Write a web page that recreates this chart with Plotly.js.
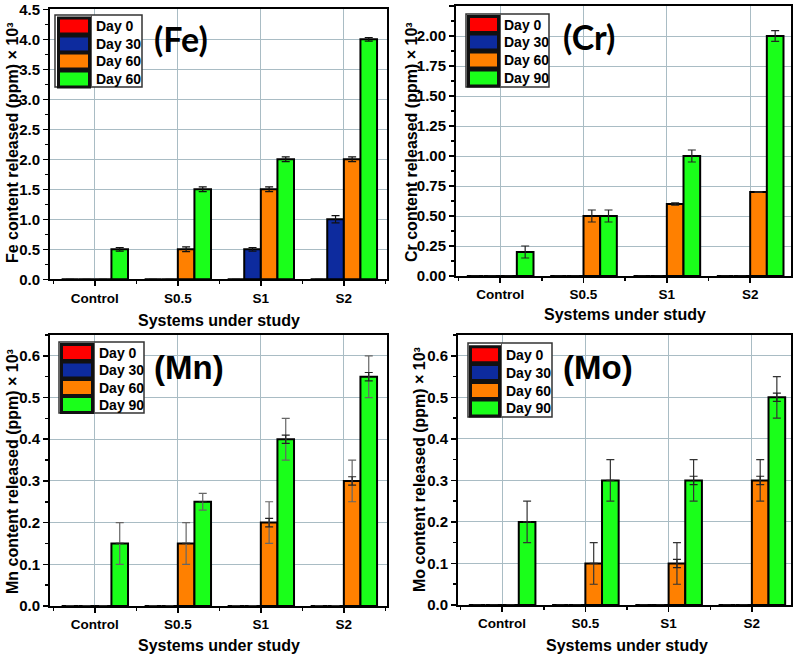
<!DOCTYPE html>
<html>
<head>
<meta charset="utf-8">
<script src="https://cdn.plot.ly/plotly-3.0.1.min.js"></script>
<style>html,body{margin:0;padding:0;background:#fff;}#chart{width:797px;height:657px;}</style>
</head>
<body>
<div id="chart"></div>
<script>
// ---------- DATA ----------
const categories = ['Control', 'S0.5', 'S1', 'S2'];
const seriesNames = ['Day 0', 'Day 30', 'Day 60', 'Day 90'];
const feLegendNames = ['Day 0', 'Day 30', 'Day 60', 'Day 60'];

const feDay0  = [0, 0, 0, 0];
const feDay30 = [0, 0, 0.5, 1.0];
const feDay60 = [0, 0.5, 1.5, 2.0];
const feDay90 = [0.5, 1.5, 2.0, 4.0];
const feErr0  = [0, 0, 0, 0];
const feErr30 = [0, 0, 0.03, 0.06];
const feErr60 = [0, 0.04, 0.04, 0.04];
const feErr90 = [0.03, 0.04, 0.04, 0.03];

const crDay0  = [0, 0, 0, 0];
const crDay30 = [0, 0, 0, 0];
const crDay60 = [0, 0.5, 0.6, 0.7];
const crDay90 = [0.2, 0.5, 1.0, 2.0];
const crErr0  = [0, 0, 0, 0];
const crErr30 = [0, 0, 0, 0];
const crErr60 = [0, 0.05, 0.01, 0.004];
const crErr90 = [0.05, 0.05, 0.05, 0.045];

const mnDay0  = [0, 0, 0, 0];
const mnDay30 = [0, 0, 0, 0];
const mnDay60 = [0, 0.15, 0.2, 0.3];
const mnDay90 = [0.15, 0.25, 0.4, 0.55];
const mnErr0  = [0, 0, 0, 0];
const mnErr30 = [0, 0, 0, 0];
const mnErr60 = [0, 0.05, 0.05, 0.05];
const mnErr90 = [0.05, 0.02, 0.05, 0.05];
const mnInnerErr60 = [0, 0, 0.01, 0.01];
const mnInnerErr90 = [0, 0, 0.01, 0.01];

const moDay0  = [0, 0, 0, 0];
const moDay30 = [0, 0, 0, 0];
const moDay60 = [0, 0.1, 0.1, 0.3];
const moDay90 = [0.2, 0.3, 0.3, 0.5];
const moErr0  = [0, 0, 0, 0];
const moErr30 = [0, 0, 0, 0];
const moErr60 = [0, 0.05, 0.05, 0.05];
const moErr90 = [0.05, 0.05, 0.05, 0.05];
const moInnerErr60 = [0, 0, 0.01, 0.01];
const moInnerErr90 = [0, 0, 0.01, 0.01];

// ---------- STYLE ----------
const colors = ['#ff0000', '#0d2b9e', '#ff8000', '#1aff1a'];
const FONT = 'Liberation Sans, Arial, sans-serif';
const W = 797, H = 657;
const px = x => x / W;
const py = y => 1 - y / H;
const xIdx = categories.map((c, i) => i);
const offsets = [-0.4, -0.2, 0, 0.2];
const BW = 0.2;

const panels = [
  { ax: '', xd: [50, 387], yd: [9.3, 279.3], xr: [-0.54, 3.52], yr: [0, 4.5], dtick: 0.5, minor: 0.25, fmt: '.1f',
    vals: [feDay0, feDay30, feDay60, feDay90], errs: [feErr0, feErr30, feErr60, feErr90], inner: null,
    errColor: '#111', names: feLegendNames,
    label: '(Fe)', labelFont: 'Lato, Open Sans, sans-serif', labelSize: 34, labelPos: [181, 38],
    ytitle: 'Fe content released (ppm) × 10³', ytPos: [13, 143], xtPos: [219, 320],
    leg: { box: [55, 15, 142, 87], sw: [57, 90], rows: [26, 44, 61, 79], tx: 94 } },
  { ax: '2', xd: [456, 791], yd: [6, 276], xr: [-0.53, 3.49], yr: [0, 2.25], dtick: 0.25, minor: 0.125, fmt: '.2f',
    vals: [crDay0, crDay30, crDay60, crDay90], errs: [crErr0, crErr30, crErr60, crErr90], inner: null,
    errColor: '#222', names: seriesNames,
    label: '(Cr)', labelFont: 'Lato, Open Sans, sans-serif', labelSize: 34, labelPos: [589, 36],
    ytitle: 'Cr content released (ppm) × 10³', ytPos: [411, 142], xtPos: [625, 315],
    leg: { box: [466, 14, 549, 87], sw: [467, 499], rows: [24.5, 42, 60, 78], tx: 502 } },
  { ax: '3', xd: [50, 387], yd: [335, 606], xr: [-0.54, 3.52], yr: [0, 0.65], dtick: 0.1, minor: 0.05, fmt: '.1f',
    vals: [mnDay0, mnDay30, mnDay60, mnDay90], errs: [mnErr0, mnErr30, mnErr60, mnErr90],
    inner: [null, null, mnInnerErr60, mnInnerErr90],
    errColor: '#666', names: seriesNames,
    label: '(Mn)', labelFont: FONT, labelSize: 33, labelPos: [189, 367],
    ytitle: 'Mn content released (ppm) × 10³', ytPos: [12, 472], xtPos: [219, 645],
    leg: { box: [59, 342, 144, 413], sw: [60, 93], rows: [352.5, 370, 387.5, 404.5], tx: 97 } },
  { ax: '4', xd: [458, 791], yd: [335, 605], xr: [-0.53, 3.47], yr: [0, 0.65], dtick: 0.1, minor: 0.05, fmt: '.1f',
    vals: [moDay0, moDay30, moDay60, moDay90], errs: [moErr0, moErr30, moErr60, moErr90],
    inner: [null, null, moInnerErr60, moInnerErr90],
    errColor: '#333', names: seriesNames,
    label: '(Mo)', labelFont: FONT, labelSize: 33, labelPos: [598, 367],
    ytitle: 'Mo content released (ppm) × 10³', ytPos: [419, 469], xtPos: [627, 645],
    leg: { box: [468, 343, 552, 417], sw: [469, 500], rows: [354.7, 372.5, 390.5, 408], tx: 504 } }
];

const traces = [];
const layout = {
  width: W, height: H,
  margin: { l: 0, r: 0, t: 0, b: 0 },
  paper_bgcolor: '#fff', plot_bgcolor: '#fff',
  barmode: 'overlay',
  showlegend: false,
  font: { family: FONT, color: '#000' },
  shapes: [], annotations: []
};

panels.forEach(p => {
  const xa = 'x' + p.ax, ya = 'y' + p.ax;
  p.vals.forEach((v, s) => {
    traces.push({
      type: 'bar', x: xIdx, y: v, xaxis: xa, yaxis: ya,
      name: p.names[s], offset: offsets[s], width: BW,
      marker: { color: colors[s], line: { color: '#000', width: 2 } },
      error_y: { type: 'data', array: p.errs[s], visible: true, color: p.errColor, thickness: 1.2, width: 4 },
      hoverinfo: 'x+y'
    });
    if (p.inner && p.inner[s]) {
      traces.push({
        type: 'bar', x: xIdx, y: v, xaxis: xa, yaxis: ya,
        name: p.names[s] + ' (inner)', offset: offsets[s], width: BW,
        marker: { color: 'rgba(0,0,0,0)', line: { width: 0 } },
        error_y: { type: 'data', array: p.inner[s], visible: true, color: '#222', thickness: 1.2, width: 4 },
        hoverinfo: 'skip'
      });
    }
  });

  const xKey = 'xaxis' + p.ax, yKey = 'yaxis' + p.ax;
  layout[xKey] = {
    domain: [px(p.xd[0]), px(p.xd[1])], anchor: ya, range: p.xr,
    tickmode: 'array', tickvals: xIdx, ticktext: categories,
    ticks: 'outside', ticklen: 5, tickwidth: 1.5, tickcolor: '#000',
    minor: { ticks: 'outside', ticklen: 3, tickwidth: 1.5, tickcolor: '#000', tick0: 0.5, dtick: 1, showgrid: false },
    showgrid: true, gridcolor: '#a9bcc4', gridwidth: 1,
    showline: true, linecolor: '#000', linewidth: 2, mirror: true,
    zeroline: false, fixedrange: true,
    tickfont: { family: FONT, size: 13.5, color: '#000', weight: 'bold' }
  };
  layout[yKey] = {
    domain: [py(p.yd[1]), py(p.yd[0])], anchor: xa, range: p.yr,
    tick0: 0, dtick: p.dtick, tickformat: p.fmt,
    ticks: 'outside', ticklen: 5, tickwidth: 1.5, tickcolor: '#000',
    minor: { ticks: 'outside', ticklen: 3, tickwidth: 1.5, tickcolor: '#000', tick0: 0, dtick: p.minor, showgrid: false },
    showgrid: true, gridcolor: '#a9bcc4', gridwidth: 1,
    showline: true, linecolor: '#000', linewidth: 2, mirror: true,
    zeroline: false, fixedrange: true,
    tickfont: { family: FONT, size: 15, color: '#000', weight: 'bold' }
  };

  // axis titles
  layout.annotations.push({
    xref: 'paper', yref: 'paper', x: px(p.ytPos[0]), y: py(p.ytPos[1]),
    xanchor: 'center', yanchor: 'middle', textangle: -90, showarrow: false,
    text: p.ytitle, font: { family: FONT, size: 16, color: '#000', weight: 'bold' }
  });
  layout.annotations.push({
    xref: 'paper', yref: 'paper', x: px(p.xtPos[0]), y: py(p.xtPos[1]),
    xanchor: 'center', yanchor: 'middle', showarrow: false,
    text: 'Systems under study', font: { family: FONT, size: 16, color: '#000', weight: 'bold' }
  });
  // panel label
  layout.annotations.push({
    xref: 'paper', yref: 'paper', x: px(p.labelPos[0]), y: py(p.labelPos[1]),
    xanchor: 'center', yanchor: 'middle', showarrow: false,
    text: p.label, font: { family: p.labelFont, size: p.labelSize, color: '#000', weight: 'bold' }
  });

  // legend box
  const L = p.leg;
  layout.shapes.push({
    type: 'rect', xref: 'paper', yref: 'paper', layer: 'above',
    x0: px(L.box[0]), x1: px(L.box[2]), y0: py(L.box[3]), y1: py(L.box[1]),
    fillcolor: '#fff', line: { color: '#333', width: 1.5 }
  });
  layout.shapes.push({
    type: 'line', xref: 'paper', yref: 'paper', layer: 'above',
    x0: px(L.sw[1] + 1.5), x1: px(L.sw[1] + 1.5), y0: py(L.box[3]), y1: py(L.box[1]),
    line: { color: '#555', width: 1 }
  });
  L.rows.forEach((r, s) => {
    layout.shapes.push({
      type: 'rect', xref: 'paper', yref: 'paper', layer: 'above',
      x0: px(L.sw[0] + 1.5), x1: px(L.sw[1] - 0.5), y0: py(r + 8), y1: py(r - 8),
      fillcolor: colors[s], line: { color: '#111', width: 3 }
    });
    layout.annotations.push({
      xref: 'paper', yref: 'paper', x: px(L.tx), y: py(r),
      xanchor: 'left', yanchor: 'middle', showarrow: false,
      text: p.names[s], font: { family: FONT, size: 14, color: '#000', weight: 'bold' }
    });
  });
});

Plotly.newPlot('chart', traces, layout, { displayModeBar: false, staticPlot: true });
</script>
</body>
</html>
